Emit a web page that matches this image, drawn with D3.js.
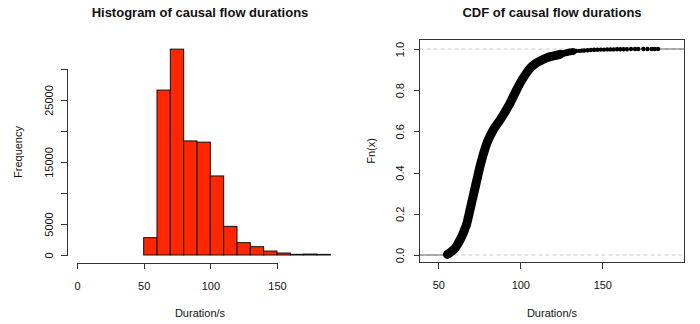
<!DOCTYPE html>
<html>
<meta charset="utf-8">
<head>
	<title>Causal flow durations</title>
	<script src="https://d3js.org/d3.v7.min.js"></script>
	<style>
		body { margin: 0; background: #fff; }
		text { font-family: "Liberation Sans", Arial, sans-serif; fill: #111; }
		.axis path, .axis line { stroke: #333; shape-rendering: crispEdges; }
		.axis text { font-size: 11px; font-family: "Liberation Sans", Arial, sans-serif; fill: #111; }
	</style>
</head>
<body>
<svg id="chart" width="700" height="324"></svg>

<script>
	// histogram bins (10 s wide) and counts
	var binStart = [50, 60, 70, 80, 90, 100, 110, 120, 130, 140, 150, 160, 170, 180];
	var binCount = [2800, 26600, 33200, 18400, 18200, 12750, 4620, 1990, 1340, 640, 320, 110, 150, 100];
	var histXTicks = [0, 50, 100, 150];
	var histYTicks = [0, 5000, 10000, 15000, 20000, 25000, 30000];
	var histYLabels = ["0", "5000", "", "15000", "", "25000", ""];

	var cdfX = [55.6, 56.5, 58.5, 60.5, 62.2, 64.0, 65.5, 67.3, 69.0, 71.3, 73.4, 75.4, 77.5, 79.5, 81.0, 83.5, 87.6, 90.5, 93.7, 96.7, 99.8, 102.8, 105.9, 109.0, 112.0, 116.0, 120.0, 124.2];
	var cdfF = [0.003, 0.008, 0.020, 0.036, 0.058, 0.085, 0.112, 0.150, 0.208, 0.288, 0.360, 0.429, 0.490, 0.540, 0.568, 0.607, 0.655, 0.692, 0.736, 0.785, 0.833, 0.872, 0.906, 0.928, 0.942, 0.957, 0.966, 0.974];
	var tailX = [126, 128, 130, 132, 134, 136, 137.5, 139, 141, 143, 145, 147, 149, 151, 153, 155, 157, 159, 161, 163, 165, 167.5, 170, 172, 175, 177.5, 180, 182, 184];
	var tailF = [0.978, 0.982, 0.985, 0.988, 0.990, 0.991, 0.992, 0.993, 0.994, 0.995, 0.996, 0.996, 0.997, 0.997, 0.998, 0.998, 0.998, 0.999, 0.999, 0.999, 0.999, 1.0, 1.0, 1.0, 1.0, 1.0, 1.0, 1.0, 1.0];
	var cdfXTicks = [50, 100, 150];
	var cdfYTicks = [0, 0.2, 0.4, 0.6, 0.8, 1.0];

	var svg = d3.select("#chart");

	// ---------- left: histogram ----------
	var xH = d3.scaleLinear().domain([0, 150]).range([77, 277]);
	var yH = d3.scaleLinear().domain([0, 30000]).range([255, 69]);

	svg.append("g")
		.selectAll("rect")
		.data(binStart)
		.enter()
		.append("rect")
		.attr("x", function (d) { return xH(d); })
		.attr("width", function (d) { return xH(d + 10) - xH(d); })
		.attr("y", function (d, i) { return yH(binCount[i]); })
		.attr("height", function (d, i) { return yH(0) - yH(binCount[i]); })
		.attr("fill", "#ff2600")
		.attr("stroke", "#111")
		.attr("stroke-width", 1);

	var hx = svg.append("g")
		.attr("class", "axis")
		.attr("transform", "translate(0,263)")
		.call(d3.axisBottom(xH).tickValues(histXTicks).tickSize(6).tickPadding(13));

	var hy = svg.append("g")
		.attr("class", "axis")
		.attr("transform", "translate(67,0)")
		.call(d3.axisLeft(yH).tickValues(histYTicks).tickSize(6)
			.tickFormat(function (d, i) { return histYLabels[i]; }));
	hy.selectAll("text")
		.attr("transform", "rotate(-90)")
		.attr("x", 0).attr("y", -14).attr("dy", 0)
		.attr("text-anchor", "middle");

	svg.append("text").attr("x", 200).attr("y", 17)
		.attr("text-anchor", "middle").attr("font-weight", "bold").attr("font-size", 13)
		.text("Histogram of causal flow durations");
	svg.append("text").attr("x", 200).attr("y", 317)
		.attr("text-anchor", "middle").attr("font-size", 11)
		.text("Duration/s");
	svg.append("text").attr("transform", "translate(22,152) rotate(-90)")
		.attr("text-anchor", "middle").attr("font-size", 11)
		.text("Frequency");

	// ---------- right: ECDF ----------
	var xC = d3.scaleLinear().domain([50, 150]).range([438.3, 602.3]);
	var yC = d3.scaleLinear().domain([0, 1]).range([255, 49]);
	var boxL = 419.5, boxR = 684.5, boxT = 39.5, boxB = 262.5;

	// dashed reference lines at 0 and 1
	svg.append("g").selectAll("line")
		.data([0, 1])
		.enter()
		.append("line")
		.attr("x1", boxL).attr("x2", boxR)
		.attr("y1", function (d) { return yC(d); })
		.attr("y2", function (d) { return yC(d); })
		.attr("stroke", "#c8c8c8")
		.attr("stroke-dasharray", "4,3");

	// step function ends
	svg.append("line")
		.attr("x1", boxL).attr("x2", xC(cdfX[0]))
		.attr("y1", yC(0)).attr("y2", yC(0))
		.attr("stroke", "#666");
	svg.append("line")
		.attr("x1", xC(tailX[tailX.length - 1])).attr("x2", boxR)
		.attr("y1", yC(1)).attr("y2", yC(1))
		.attr("stroke", "#666");

	var band = d3.line()
		.x(function (d, i) { return xC(d); })
		.y(function (d, i) { return yC(cdfF[i]); })
		.curve(d3.curveMonotoneX);

	svg.append("path")
		.attr("d", band(cdfX))
		.attr("fill", "none")
		.attr("stroke", "#000")
		.attr("stroke-width", 9)
		.attr("stroke-linecap", "round")
		.attr("stroke-linejoin", "round");

	svg.append("g").selectAll("circle")
		.data(tailX)
		.enter()
		.append("circle")
		.attr("cx", function (d) { return xC(d); })
		.attr("cy", function (d, i) { return yC(tailF[i]); })
		.attr("r", function (d, i) { return i < 4 ? 3.5 : 2.2; })
		.attr("fill", "#000");

	svg.append("rect")
		.attr("x", boxL).attr("y", boxT)
		.attr("width", boxR - boxL).attr("height", boxB - boxT)
		.attr("fill", "none").attr("stroke", "#333");

	var cx = svg.append("g")
		.attr("class", "axis")
		.attr("transform", "translate(0," + boxB + ")")
		.call(d3.axisBottom(xC).tickValues(cdfXTicks).tickSize(6).tickPadding(13));
	cx.select(".domain").remove();

	var cy = svg.append("g")
		.attr("class", "axis")
		.attr("transform", "translate(" + boxL + ",0)")
		.call(d3.axisLeft(yC).tickValues(cdfYTicks).tickSize(6).tickFormat(d3.format(".1f")));
	cy.select(".domain").remove();
	cy.selectAll("text")
		.attr("transform", "rotate(-90)")
		.attr("x", 0).attr("y", -16).attr("dy", 0)
		.attr("text-anchor", "middle");

	svg.append("text").attr("x", 552).attr("y", 17)
		.attr("text-anchor", "middle").attr("font-weight", "bold").attr("font-size", 13)
		.text("CDF of causal flow durations");
	svg.append("text").attr("x", 552).attr("y", 317)
		.attr("text-anchor", "middle").attr("font-size", 11)
		.text("Duration/s");
	svg.append("text").attr("transform", "translate(375,151) rotate(-90)")
		.attr("text-anchor", "middle").attr("font-size", 11)
		.text("Fn(x)");
</script>
</body>
</html>
